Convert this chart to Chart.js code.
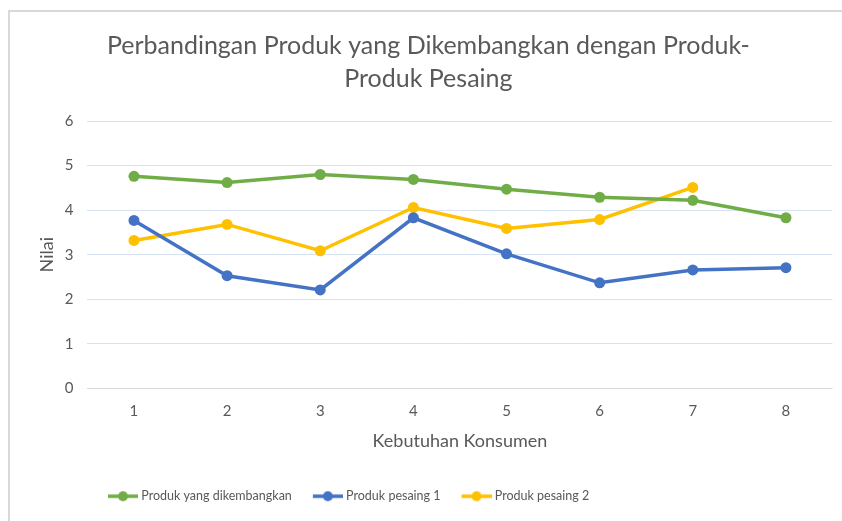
<!DOCTYPE html>
<html>
<head>
<meta charset="utf-8">
<script src="https://cdn.jsdelivr.net/npm/chart.js@4"></script>
<style>
  html, body { margin: 0; padding: 0; background: #ffffff; overflow: hidden; }
  #wrap { position: absolute; left: 8px; top: 0; width: 840px; height: 521px; }
</style>
</head>
<body>
<div id="wrap"><canvas id="c" width="840" height="521"></canvas></div>
<script>
const categories = ['1', '2', '3', '4', '5', '6', '7', '8'];
const produkDikembangkan = [4.76, 4.62, 4.80, 4.69, 4.47, 4.29, 4.22, 3.83];
const produkPesaing1 = [3.77, 2.53, 2.21, 3.83, 3.02, 2.37, 2.66, 2.71];
const produkPesaing2 = [3.32, 3.68, 3.09, 4.06, 3.59, 3.79, 4.51, null];
const seriesNames = ['Produk yang dikembangkan', 'Produk pesaing 1', 'Produk pesaing 2'];
const seriesColors = ['#70AD47', '#4472C4', '#FFC000'];
const titleLines = ['Perbandingan Produk yang Dikembangkan dengan Produk-', 'Produk Pesaing'];
const yTitle = 'Nilai';
const xTitle = 'Kebutuhan Konsumen';

const FONT = 'Lato, "Open Sans", sans-serif';
const TEXT = '#595959';

function legendIcon(color) {
  const cv = document.createElement('canvas');
  cv.width = 42; cv.height = 12;
  const g = cv.getContext('2d');
  g.strokeStyle = color; g.lineWidth = 3.5;
  g.beginPath(); g.moveTo(12, 6); g.lineTo(42, 6); g.stroke();
  g.fillStyle = color;
  g.beginPath(); g.arc(27, 6, 5, 0, Math.PI * 2); g.fill();
  return cv;
}
const icons = seriesColors.map(legendIcon);

const frame = {
  id: 'frame',
  beforeDraw(chart) {
    const g = chart.ctx;
    g.save();
    g.fillStyle = '#ffffff';
    g.fillRect(0, 0, chart.width, chart.height);
    g.strokeStyle = '#d9d9d9';
    g.lineWidth = 2;
    g.beginPath();
    g.moveTo(1, chart.height);
    g.lineTo(1, 11);
    g.lineTo(chart.width, 11);
    g.stroke();
    g.restore();
  }
};

const placeBlocks = {
  id: 'placeBlocks',
  afterLayout(chart) {
    if (chart.titleBlock) { chart.titleBlock.left -= 6; chart.titleBlock.right -= 6; }
    if (chart.legend) {
      const L = chart.legend;
      const w = L.right - L.left;
      L.left = 79; L.right = 79 + w;
      L.top -= 8.5; L.bottom -= 8.5;
    }
  }
};

const datasets = [produkDikembangkan, produkPesaing1, produkPesaing2].map((d, i) => ({
  label: seriesNames[i],
  data: d,
  borderColor: seriesColors[i],
  backgroundColor: seriesColors[i],
  borderWidth: 3.5,
  pointRadius: 5.5,
  pointHoverRadius: 5.5,
  pointBorderWidth: 0,
  pointStyle: 'circle',
  tension: 0,
  fill: false,
  spanGaps: false
}));

new Chart(document.getElementById('c'), {
  type: 'line',
  data: { labels: categories, datasets },
  plugins: [frame, placeBlocks],
  options: {
    responsive: false,
    animation: false,
    devicePixelRatio: 1,
    layout: { padding: { left: 28.2, right: 15.5, top: 0, bottom: 0 } },
    plugins: {
      tooltip: { enabled: false },
      title: {
        display: true,
        text: titleLines,
        color: TEXT,
        font: { family: FONT, size: 25, weight: 'normal', lineHeight: 1.32 },
        padding: { top: 29.5, bottom: 25.5 }
      },
      legend: {
        position: 'bottom',
        align: 'start',
        labels: {
          color: TEXT,
          font: { family: FONT, size: 12.5 },
          usePointStyle: true,
          pointStyleWidth: 36,
          boxHeight: 12,
          padding: 12,
          generateLabels(chart) {
            return chart.data.datasets.map((ds, i) => ({
              text: ds.label,
              fillStyle: ds.borderColor,
              strokeStyle: ds.borderColor,
              pointStyle: icons[i],
              lineWidth: 0,
              hidden: false,
              datasetIndex: i,
              fontColor: TEXT
            }));
          }
        }
      }
    },
    scales: {
      x: {
        offset: true,
        grid: { display: false, drawTicks: false },
        border: { display: false },
        ticks: { color: TEXT, font: { family: FONT, size: 15 }, padding: 14 },
        title: { display: true, text: xTitle, color: TEXT, font: { family: FONT, size: 18 }, padding: { top: 6, bottom: 34.2 } },
        afterFit(scale) { scale.height = 98; }
      },
      y: {
        min: 0, max: 6,
        grid: {
          color: (ctx) => (ctx.tick && ctx.tick.value === 0) ? '#d9d9d9' : '#d6e3f3',
          lineWidth: 1,
          drawTicks: false
        },
        border: { display: false },
        ticks: { stepSize: 1, color: TEXT, font: { family: FONT, size: 15 }, padding: 14 },
        title: { display: true, text: yTitle, color: TEXT, font: { family: FONT, size: 18 }, padding: { top: 0, bottom: 10 } },
        afterFit(scale) { scale.width = 51.2; }
      }
    }
  }
});
</script>
</body>
</html>
